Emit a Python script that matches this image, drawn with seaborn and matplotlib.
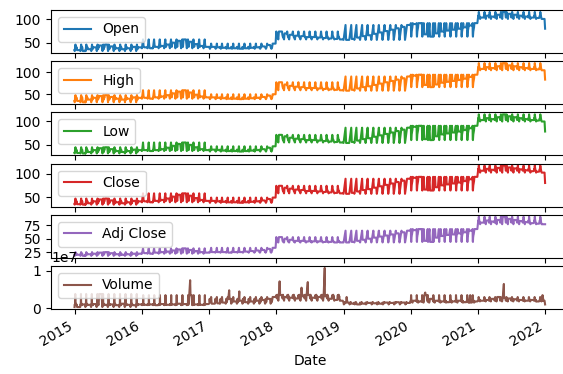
import seaborn as sns
import matplotlib
matplotlib.use("Agg")
import matplotlib.pyplot as plt
import matplotlib.dates as mdates
import pandas as pd

# monthly levels, one row per year 2015..2021
years = [2015, 2016, 2017, 2018, 2019, 2020, 2021]

open_px = [
    [34, 32, 36, 40, 44, 46, 42, 38, 36, 38, 41, 40],
    [40, 38, 41, 43, 46, 50, 54, 57, 52, 47, 43, 41],
    [41, 40, 39, 38, 38, 37, 38, 39, 40, 42, 45, 48],
    [74, 70, 67, 65, 64, 62, 62, 61, 60, 59, 58, 57],
    [56, 58, 61, 64, 66, 69, 72, 75, 78, 81, 84, 88],
    [90, 92, 68, 63, 70, 74, 76, 78, 80, 83, 87, 92],
    [104, 108, 106, 110, 116, 112, 110, 108, 106, 104, 103, 101],
]
high_px = [
    [35, 32, 38, 42, 46, 48, 44, 40, 38, 40, 43, 42],
    [42, 40, 43, 45, 48, 52, 56, 59, 54, 49, 45, 43],
    [43, 42, 41, 40, 40, 39, 40, 41, 42, 44, 47, 50],
    [77, 72, 69, 67, 66, 64, 64, 63, 62, 61, 60, 59],
    [58, 60, 63, 66, 68, 71, 74, 77, 80, 83, 86, 90],
    [92, 94, 71, 66, 72, 76, 78, 80, 82, 85, 89, 94],
    [107, 111, 109, 113, 120, 115, 113, 111, 109, 107, 106, 104],
]
low_px = [
    [33, 32, 35, 39, 43, 45, 41, 37, 35, 37, 40, 39],
    [39, 37, 39, 41, 44, 48, 52, 55, 50, 45, 41, 39],
    [40, 39, 38, 37, 37, 36, 37, 38, 39, 41, 44, 47],
    [71, 68, 65, 63, 62, 60, 60, 59, 58, 57, 56, 55],
    [54, 56, 59, 62, 64, 67, 70, 73, 76, 79, 82, 86],
    [88, 90, 62, 60, 68, 72, 74, 76, 78, 81, 85, 90],
    [102, 106, 104, 108, 114, 110, 108, 106, 104, 102, 101, 99],
]
close_px = [
    [35, 34, 37, 41, 45, 47, 43, 39, 37, 39, 42, 41],
    [41, 39, 42, 44, 47, 51, 55, 58, 53, 48, 44, 42],
    [42, 41, 40, 39, 39, 38, 39, 40, 41, 43, 46, 49],
    [74, 70, 68, 66, 65, 63, 63, 62, 61, 60, 59, 58],
    [57, 59, 62, 65, 67, 70, 73, 76, 79, 82, 85, 89],
    [91, 93, 66, 64, 71, 75, 77, 79, 81, 84, 88, 93],
    [106, 110, 108, 112, 117, 113, 111, 109, 107, 105, 104, 102],
]
adj_close_px = [
    [20, 18, 21, 22, 24, 25, 23, 21, 20, 21, 22, 22],
    [23, 22, 24, 25, 26, 28, 30, 32, 29, 27, 25, 24],
    [25, 25, 25, 24, 25, 25, 26, 27, 28, 29, 31, 33],
    [53, 50, 48, 46, 46, 45, 45, 45, 44, 44, 43, 43],
    [43, 44, 46, 48, 50, 52, 54, 56, 58, 60, 62, 65],
    [66, 68, 46, 44, 52, 55, 57, 58, 60, 62, 65, 68],
    [80, 84, 82, 85, 91, 87, 85, 83, 81, 79, 78, 77],
]
volume_m = [
    [0.3, 1.0, 0.9, 1.1, 3.8, 0.9, 1.0, 0.8, 1.2, 0.9, 0.8, 1.0],
    [0.9, 1.0, 0.8, 1.1, 0.9, 1.0, 1.2, 1.1, 3.5, 1.0, 0.9, 1.1],
    [1.2, 1.3, 1.5, 2.5, 1.8, 2.0, 1.6, 1.8, 2.0, 2.2, 2.5, 3.0],
    [3.5, 3.0, 2.8, 2.6, 3.2, 3.6, 2.8, 3.0, 3.2, 2.5, 2.2, 2.0],
    [1.5, 1.2, 1.0, 1.2, 1.4, 1.3, 1.2, 1.5, 1.4, 1.6, 1.5, 1.4],
    [2.0, 1.8, 3.5, 2.5, 2.0, 1.8, 1.6, 1.8, 2.0, 1.6, 1.5, 1.8],
    [2.0, 2.2, 2.5, 3.0, 2.8, 2.6, 2.4, 2.2, 2.0, 2.2, 1.8, 2.0],
]

# single days that stand out
last_day = "2021-12-31"
last_values = {"Open": 80, "High": 83, "Low": 78, "Close": 80,
               "Adj Close": 77, "Volume": 1.0}
volume_peak_days = ["2016-09-20", "2017-04-20", "2017-06-14", "2018-01-19",
                    "2018-05-18", "2018-06-21", "2018-09-21", "2019-01-18",
                    "2020-03-20", "2020-11-19", "2021-05-21", "2021-12-17"]
volume_peak_m = [7.5, 4.8, 4.5, 7.2, 5.5, 7.0, 10.8, 3.0, 4.2, 3.5, 6.5, 3.5]

series = {"Open": open_px, "High": high_px, "Low": low_px,
          "Close": close_px, "Adj Close": adj_close_px, "Volume": volume_m}
late_days = [15, 22, 28]

frames = {}
for name, table in series.items():
    dates, vals = [], []
    for i, y in enumerate(years):
        for m in range(1, 13):
            v = table[i][m - 1]
            # the first 12 days of each month were read month-first
            for d in range(1, 13):
                dates.append(pd.Timestamp(y, d, m))
                vals.append(v)
            for d in late_days:
                dates.append(pd.Timestamp(y, m, d))
                vals.append(v)
    dates.append(pd.Timestamp(last_day))
    vals.append(last_values[name])
    if name == "Volume":
        dates += [pd.Timestamp(s) for s in volume_peak_days]
        vals += volume_peak_m
        vals = [v * 1e6 for v in vals]
    df = pd.DataFrame({"Date": dates, name: vals}).sort_values("Date")
    frames[name] = df

colors = sns.color_palette("tab10", 6)

fig, axes = plt.subplots(6, 1, sharex=True, figsize=(5.63, 3.74), dpi=100)
for ax, (name, df), c in zip(axes, frames.items(), colors):
    sns.lineplot(data=df, x="Date", y=name, ax=ax, color=c, label=name,
                 estimator=None, linewidth=1.5)
    ax.legend(loc="upper left")
    ax.set_ylabel("")
    ax.set_xlabel("")

axes[-1].xaxis.set_major_locator(mdates.YearLocator())
axes[-1].xaxis.set_major_formatter(mdates.DateFormatter("%Y"))
plt.setp(axes[-1].get_xticklabels(), rotation=30, ha="right")
axes[-1].set_xlabel("Date")

# the original figure is cut off just before the right spine
fig.subplots_adjust(left=51 / 563, right=1.01, top=1 - 10 / 374,
                    bottom=1 - 309 / 374, hspace=0.19)
fig.savefig("out.png", dpi=100)
